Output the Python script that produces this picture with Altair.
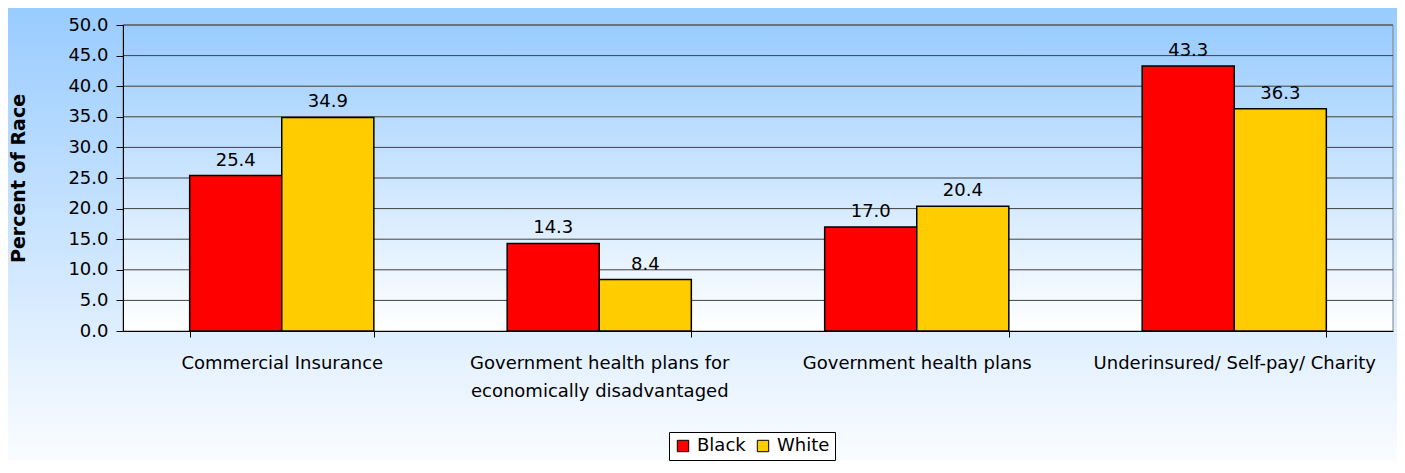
import altair as alt
import pandas as pd

categories = [
    "Commercial Insurance",
    "Government health plans for economically disadvantaged",
    "Government health plans",
    "Underinsured/ Self-pay/ Charity",
]
black_vals = [25.4, 14.3, 17.0, 43.3]
white_vals = [34.9, 8.4, 20.4, 36.3]
series = ["Black", "White"]
colors = ["#FF0000", "#FFCC00"]
yticks = [0.0, 5.0, 10.0, 15.0, 20.0, 25.0, 30.0, 35.0, 40.0, 45.0, 50.0]

rows = []
for c, b, w in zip(categories, black_vals, white_vals):
    rows.append({"cat": c, "race": "Black", "val": b})
    rows.append({"cat": c, "race": "White", "val": w})
df = pd.DataFrame(rows)
grid_df = pd.DataFrame({"v": yticks[1:]})
one = pd.DataFrame({"a": [0]})

W, H = 1270, 306
PL, PT, PR, PB = 115, 17, 4, 130
FONT = "DejaVu Sans"
FS = 18

yscale = alt.Scale(domain=[0, 50], nice=False)
yaxis = alt.Axis(values=yticks, format=".1f", domainColor="black", tickColor="black",
                 tickSize=7, labelPadding=8, labelFontSize=FS, labelColor="black",
                 labelFont=FONT, grid=False, zindex=1, titleFont=FONT, titleFontSize=19,
                 titleFontWeight="bold", titleColor="black", titlePadding=39)
xscale = alt.Scale(domain=categories, paddingInner=0.42, paddingOuter=0.21)
xaxis = alt.Axis(title=None, labelAngle=0, labelFontSize=FS, labelFont=FONT, labelColor="black",
                 labelPadding=17, labelLineHeight=28, domainColor="black", tickColor="black",
                 tickSize=6, tickBand="extent", zindex=1, labelLimit=0,
                 labelExpr="datum.value == 'Government health plans for economically disadvantaged' ? ['Government health plans for', 'economically disadvantaged'] : datum.value")

outer_bg = alt.Chart(one).mark_rect(
    color=alt.LinearGradient(gradient="linear", x1=0, x2=0, y1=0, y2=1,
                             stops=[alt.GradientStop(offset=0, color="#99CCFF"),
                                    alt.GradientStop(offset=1, color="#FAFCFF")])
).encode(x=alt.value(-PL), x2=alt.value(W + PR), y=alt.value(-PT), y2=alt.value(H + PB))

plot_bg = alt.Chart(one).mark_rect(
    stroke="#808080", strokeWidth=1,
    color=alt.LinearGradient(gradient="linear", x1=0, x2=0, y1=0, y2=1,
                             stops=[alt.GradientStop(offset=0, color="#99CCFF"),
                                    alt.GradientStop(offset=1, color="#FFFFFF")])
).encode(x=alt.value(0), x2=alt.value(W), y=alt.value(0), y2=alt.value(H))

grid = alt.Chart(grid_df).mark_rule(color="#404040", strokeWidth=1).encode(
    y=alt.Y("v:Q", scale=yscale, axis=yaxis, title="Percent of Race")
)

bars = alt.Chart(df).mark_bar(stroke="black", strokeWidth=1.5).encode(
    x=alt.X("cat:N", scale=xscale, axis=xaxis, sort=categories),
    xOffset=alt.XOffset("race:N", sort=series, scale=alt.Scale(paddingInner=0, paddingOuter=0)),
    y=alt.Y("val:Q", scale=yscale, axis=yaxis, title="Percent of Race"),
    color=alt.Color("race:N", scale=alt.Scale(domain=series, range=colors),
                    legend=alt.Legend(title=None, orient="none", direction="horizontal",
                                      legendX=546, legendY=407, strokeColor="black",
                                      fillColor="white", padding=5, labelFontSize=FS,
                                      labelFont=FONT, labelColor="black", symbolType="square",
                                      symbolSize=130, symbolStrokeColor="black",
                                      symbolStrokeWidth=1, symbolOpacity=1, columnPadding=8,
                                      labelOffset=5)),
)

labels = alt.Chart(df).mark_text(baseline="bottom", dy=-6, fontSize=FS, font=FONT, color="black").encode(
    x=alt.X("cat:N", scale=xscale, axis=xaxis, sort=categories),
    xOffset=alt.XOffset("race:N", sort=series, scale=alt.Scale(paddingInner=0, paddingOuter=0)),
    y=alt.Y("val:Q", scale=yscale, axis=yaxis, title="Percent of Race"),
    text=alt.Text("val:Q", format=".1f"),
)

chart = alt.layer(outer_bg, plot_bg, grid, bars, labels).properties(
    width=W, height=H,
    autosize=alt.AutoSizeParams(type="none"),
    padding={"left": PL, "top": PT, "right": PR, "bottom": PB},
).configure_view(stroke=None).configure(background="white")

chart.save("out.html", embed_options={"renderer": "svg", "actions": False})
